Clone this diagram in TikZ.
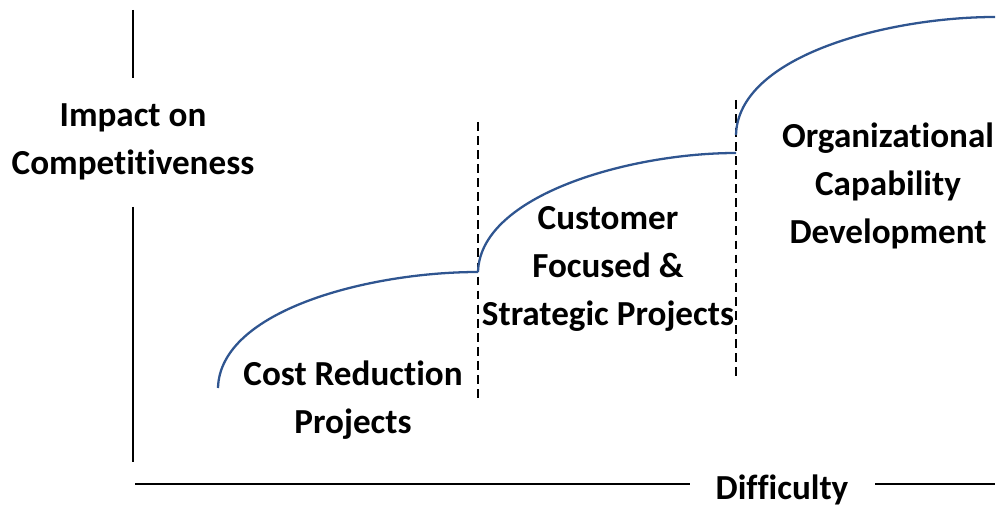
\documentclass[tikz,border=0pt]{standalone}
\usepackage{fontspec}
\setmainfont{Carlito}[Ligatures=NoCommon]
\definecolor{curveblue}{HTML}{2F5590}
\begin{document}
\begin{tikzpicture}[x=0.02cm,y=-0.02cm,
  axis/.style={line width=1.2pt,black},
  sep/.style={line width=1.25pt,black,dash pattern=on 5pt off 3pt},
  curve/.style={line width=1.3pt,curveblue},
  lbl/.style={font=\fontsize{20}{27.5}\selectfont\bfseries,align=center,inner sep=0pt}]
\useasboundingbox (0,0) rectangle (1000,506);
% axes
\coordinate (va1) at (133,10); \coordinate (va2) at (133,78);
\coordinate (vb1) at (133,207); \coordinate (vb2) at (133,462);
\coordinate (ha1) at (135,484); \coordinate (ha2) at (690,484);
\coordinate (hb1) at (875,484); \coordinate (hb2) at (995,484);
\draw[axis] (va1) -- (va2);
\draw[axis] (vb1) -- (vb2);
\draw[axis] (ha1) -- (ha2);
\draw[axis] (hb1) -- (hb2);
\node[lbl] (ylab) at (133,142) {Impact on\\Competitiveness};
\node[lbl] (xlab) at (782,490) {Difficulty};
% separators
\coordinate (s1a) at (478,122); \coordinate (s1b) at (478,398);
\coordinate (s2a) at (736,100); \coordinate (s2b) at (736,378);
\draw[sep] (s1a) -- (s1b);
\draw[sep] (s2a) -- (s2b);
% curves
\coordinate (c1s) at (218,388); \coordinate (c1e) at (478,272);
\coordinate (c2s) at (478,272); \coordinate (c2e) at (736,153);
\coordinate (c3s) at (736,135); \coordinate (c3e) at (995,17);
\draw[curve] (c1s) .. controls (220,310) and (370,272) .. (c1e);
\draw[curve] (c2s) .. controls (480,195) and (630,153) .. (c2e);
\draw[curve] (c3s) .. controls (738,55) and (890,17) .. (c3e);
% labels
\node[lbl] (t1) at (353,400) {Cost Reduction\\Projects};
\node[lbl] (t2) at (608,269) {Customer\\Focused \&\\Strategic Projects};
\node[lbl] (t3) at (888,186) {Organizational\\Capability\\Development};
\end{tikzpicture}
\end{document}
